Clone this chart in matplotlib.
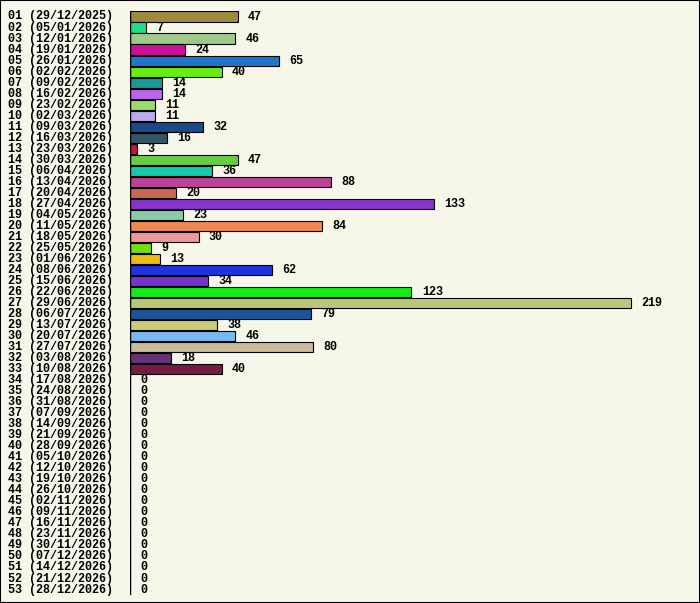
import matplotlib
matplotlib.use("Agg")
import matplotlib.pyplot as plt
import matplotlib.transforms as mtrans
from matplotlib.patches import Rectangle

weeks = [f"{i:02d}" for i in range(1, 54)]
dates = ["29/12/2025","05/01/2026","12/01/2026","19/01/2026","26/01/2026","02/02/2026","09/02/2026",
         "16/02/2026","23/02/2026","02/03/2026","09/03/2026","16/03/2026","23/03/2026","30/03/2026",
         "06/04/2026","13/04/2026","20/04/2026","27/04/2026","04/05/2026","11/05/2026","18/05/2026",
         "25/05/2026","01/06/2026","08/06/2026","15/06/2026","22/06/2026","29/06/2026","06/07/2026",
         "13/07/2026","20/07/2026","27/07/2026","03/08/2026","10/08/2026","17/08/2026","24/08/2026",
         "31/08/2026","07/09/2026","14/09/2026","21/09/2026","28/09/2026","05/10/2026","12/10/2026",
         "19/10/2026","26/10/2026","02/11/2026","09/11/2026","16/11/2026","23/11/2026","30/11/2026",
         "07/12/2026","14/12/2026","21/12/2026","28/12/2026"]
values = [47,7,46,24,65,40,14,14,11,11,32,16,3,47,36,88,20,133,23,84,30,9,13,62,34,123,219,79,38,46,80,18,40] + [0]*20
colors = ["#9e8b3a","#22dd88","#a0c888","#cc1199","#1f77cc","#66ee11","#1a9999","#bb66ee","#99dd66",
          "#bbaaee","#1a4a88","#335566","#cc1133","#66cc44","#11ccaa","#bb4499","#cc6655","#8833cc",
          "#88ccaa","#ee8855","#ee9999","#77dd11","#eebb11","#2233dd","#7733cc","#11ee11","#b8c878",
          "#1a5599","#cccc77","#77bbee","#ccbb99","#663377","#771a44"] + ["#ffffff"]*20

bg = "#f6f6e9"
W, H = 700, 603
fig = plt.figure(figsize=(7, 6.03), dpi=100, facecolor=bg)
p = 11.02
top = 16.5 - p/2
bottom = 16.5 + 52.5*p
ax = fig.add_axes([130/W, 1 - bottom/H, 560/W, (bottom-top)/H])
ax.set_facecolor(bg)
ax.set_xlim(0, 560/2.288)
ax.set_ylim(52.5, -0.5)
y = list(range(len(weeks)))
ax.barh(y, values, height=0.92, color=colors, edgecolor="black", linewidth=0.8)
ax.axvline(0, color="black", lw=1)
for s in ax.spines.values():
    s.set_visible(False)
ax.set_xticks([]); ax.set_yticks([])
font = dict(family="Liberation Mono", weight="bold", fontsize=8.5)
tr = mtrans.blended_transform_factory(fig.transFigure, ax.transData)
for i, (w, d, v) in enumerate(zip(weeks, dates, values)):
    ax.text(8/W, i, f"{w} ({d})", transform=tr, ha="left", va="center", **font)
    ax.text(v + 8/2.288*1.0 + 1, i, str(v), ha="left", va="center", **font)
fig.patches.append(Rectangle((0, 0), 1, 1, transform=fig.transFigure, fill=False,
                             edgecolor="black", linewidth=1.5))
fig.savefig("out.png", dpi=100, facecolor=bg)
